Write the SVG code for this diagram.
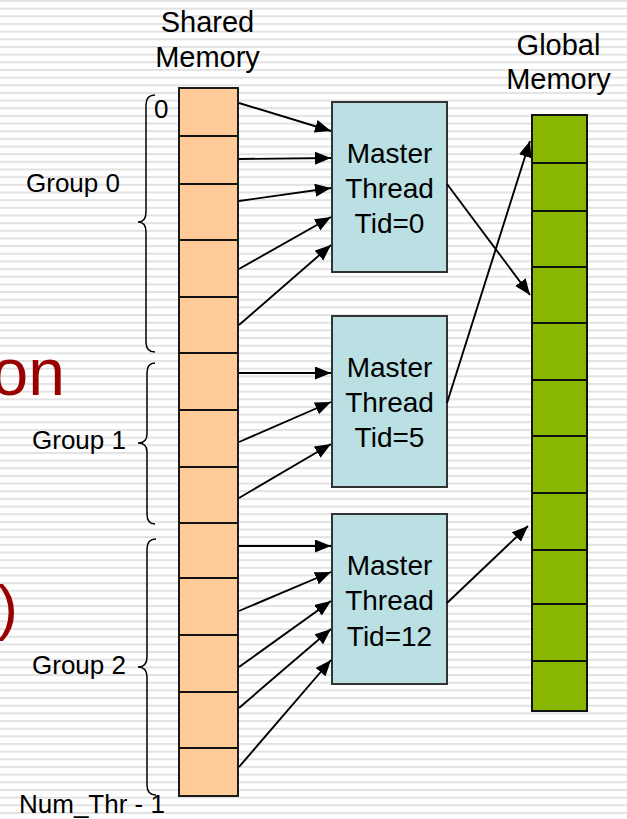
<svg xmlns="http://www.w3.org/2000/svg" width="627" height="819" viewBox="0 0 627 819">
  <defs>
    <pattern id="stripes" width="627" height="7.66" patternUnits="userSpaceOnUse">
      <rect x="0" y="0" width="627" height="2" fill="#e2e2e2"/>
    </pattern>
    <marker id="arrow" markerUnits="userSpaceOnUse" markerWidth="18" markerHeight="14" refX="16" refY="6.5" orient="auto">
      <path d="M0,0 L16,6.5 L0,13 z" fill="#000"/>
    </marker>
  </defs>
  <style>
    text { font-family: "Liberation Sans", Arial, sans-serif; fill: #000; }
    .hdr { font-size: 29px; text-anchor: middle; }
    .box { font-size: 28px; text-anchor: middle; }
    .lbl { font-size: 26px; }
    .red { fill: #990000; }
    .shared { fill: #ffcc99; stroke: #1a1a1a; stroke-width: 2; }
    .global { fill: #8ab800; stroke: #111; stroke-width: 2; }
    .thread { fill: #bae0e4; stroke: #333; stroke-width: 2; }
    .div { stroke: #111; stroke-width: 2; }
    .conn { stroke: #000; stroke-width: 1.9; fill: none; marker-end: url(#arrow); }
    .brace { stroke: #000; stroke-width: 1.5; fill: none; }
  </style>

  <!-- striped slide background -->
  <rect width="627" height="819" fill="#fff"/>
  <rect width="627" height="819" fill="url(#stripes)"/>

  <!-- slide text showing at the left edge -->
  <text class="red" x="65" y="395" font-size="66" text-anchor="end">on</text>
  <text class="red" x="18" y="628" font-size="62" text-anchor="end">)</text>

  <!-- column headers -->
  <text class="hdr" x="207.5" y="32">Shared</text>
  <text class="hdr" x="207.5" y="66.5">Memory</text>
  <text class="hdr" x="558.5" y="54.5">Global</text>
  <text class="hdr" x="558.5" y="89">Memory</text>

  <!-- shared memory array -->
  <g id="shared-memory">
    <rect class="shared" x="179" y="88" width="59" height="708"/>
    <g class="div">
      <line x1="179" y1="136" x2="238" y2="136"/>
      <line x1="179" y1="184" x2="238" y2="184"/>
      <line x1="179" y1="240" x2="238" y2="240"/>
      <line x1="179" y1="297" x2="238" y2="297"/>
      <line x1="179" y1="353" x2="238" y2="353"/>
      <line x1="179" y1="410" x2="238" y2="410"/>
      <line x1="179" y1="467" x2="238" y2="467"/>
      <line x1="179" y1="523" x2="238" y2="523"/>
      <line x1="179" y1="578" x2="238" y2="578"/>
      <line x1="179" y1="635" x2="238" y2="635"/>
      <line x1="179" y1="692" x2="238" y2="692"/>
      <line x1="179" y1="748" x2="238" y2="748"/>
    </g>
    <text class="lbl" x="154" y="118" font-size="25">0</text>
    <text class="lbl" x="19" y="812.5">Num_Thr - 1</text>
  </g>

  <!-- thread groups -->
  <g id="group-0">
    <path class="brace" d="M155,95 Q146,95 146,105 L146,212 Q146,222 138,222 Q146,222 146,232 L146,342 Q146,352 155,352"/>
    <text class="lbl" x="26" y="191.5">Group 0</text>
  </g>
  <g id="group-1">
    <path class="brace" d="M155,363 Q147,363 147,373 L147,434 Q147,443 138,443 Q147,443 147,452 L147,514 Q147,524 155,524"/>
    <text class="lbl" x="32" y="448.5">Group 1</text>
  </g>
  <g id="group-2">
    <path class="brace" d="M156,539 Q147,539 147,549 L147,657 Q147,667 138,667 Q147,667 147,677 L147,785 Q147,795 156,795"/>
    <text class="lbl" x="32" y="673.5">Group 2</text>
  </g>

  <!-- master threads -->
  <g id="master-0">
    <rect class="thread" x="332" y="102" width="115" height="170"/>
    <text class="box" x="389.5" y="162.5">Master</text>
    <text class="box" x="389.5" y="197.5">Thread</text>
    <text class="box" x="389.5" y="232.7">Tid=0</text>
  </g>
  <g id="master-5">
    <rect class="thread" x="332" y="316" width="115" height="171"/>
    <text class="box" x="389.5" y="376.7">Master</text>
    <text class="box" x="389.5" y="412">Thread</text>
    <text class="box" x="389.5" y="447.3">Tid=5</text>
  </g>
  <g id="master-12">
    <rect class="thread" x="332" y="514" width="115" height="170"/>
    <text class="box" x="389.5" y="575">Master</text>
    <text class="box" x="389.5" y="610">Thread</text>
    <text class="box" x="389.5" y="646">Tid=12</text>
  </g>

  <!-- global memory array -->
  <g id="global-memory">
    <rect class="global" x="532" y="115" width="55" height="596"/>
    <g class="div">
      <line x1="532" y1="163" x2="587" y2="163"/>
      <line x1="532" y1="211" x2="587" y2="211"/>
      <line x1="532" y1="267" x2="587" y2="267"/>
      <line x1="532" y1="323" x2="587" y2="323"/>
      <line x1="532" y1="380" x2="587" y2="380"/>
      <line x1="532" y1="436" x2="587" y2="436"/>
      <line x1="532" y1="493" x2="587" y2="493"/>
      <line x1="532" y1="550" x2="587" y2="550"/>
      <line x1="532" y1="604" x2="587" y2="604"/>
      <line x1="532" y1="661" x2="587" y2="661"/>
    </g>
  </g>

  <!-- connectors -->
  <g id="connectors">
    <!-- group 0 to master 0 -->
    <line class="conn" x1="239" y1="103" x2="331" y2="131"/>
    <line class="conn" x1="239" y1="159" x2="331" y2="158"/>
    <line class="conn" x1="239" y1="201" x2="331" y2="188"/>
    <line class="conn" x1="239" y1="269" x2="331" y2="217"/>
    <line class="conn" x1="239" y1="325" x2="331" y2="245"/>
    <!-- group 1 to master 5 -->
    <line class="conn" x1="239" y1="373" x2="331" y2="373"/>
    <line class="conn" x1="239" y1="442" x2="331" y2="402"/>
    <line class="conn" x1="239" y1="498" x2="331" y2="444"/>
    <!-- group 2 to master 12 -->
    <line class="conn" x1="239" y1="546" x2="331" y2="546"/>
    <line class="conn" x1="239" y1="611" x2="331" y2="572"/>
    <line class="conn" x1="239" y1="667" x2="331" y2="601"/>
    <line class="conn" x1="239" y1="708" x2="331" y2="629"/>
    <line class="conn" x1="239" y1="767" x2="331" y2="660"/>
    <!-- masters to global memory -->
    <line class="conn" x1="447" y1="184" x2="530" y2="295"/>
    <line class="conn" x1="447" y1="403" x2="530" y2="141"/>
    <line class="conn" x1="447" y1="603" x2="528" y2="526"/>
  </g>
</svg>
